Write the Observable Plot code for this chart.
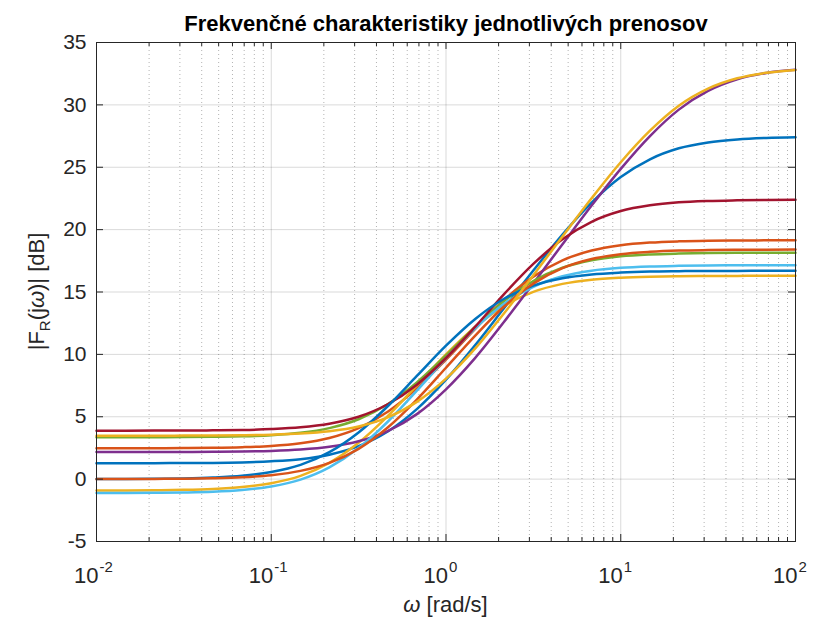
<!DOCTYPE html>
<html><head><meta charset="utf-8">
<script src="https://cdn.jsdelivr.net/npm/d3@7"></script>
<script src="https://cdn.jsdelivr.net/npm/@observablehq/plot@0.6"></script>
<style>body{margin:0;background:#fff}</style>
</head><body><div id="chart"></div>
<script>
// angular frequency samples [rad/s]
const omega = [0.01,0.0147,0.0215,0.0316,0.0464,0.0681,0.1,0.147,0.215,0.316,0.464,0.681,1,1.47,2.15,3.16,4.64,6.81,10,14.7,21.5,31.6,46.4,68.1,100];
// magnitude |F_R(jw)| [dB] of each transfer function
const F1  = [1.27,1.27,1.28,1.29,1.30,1.34,1.43,1.60,1.96,2.64,3.82,5.61,7.97,10.74,13.71,16.72,19.60,22.16,24.21,25.64,26.52,26.99,27.23,27.35,27.40];
const F2  = [2.47,2.47,2.48,2.49,2.51,2.56,2.66,2.88,3.30,4.09,5.40,7.27,9.58,12.05,14.36,16.23,17.54,18.32,18.75,18.96,19.06,19.11,19.13,19.14,19.15];
const F3  = [-0.91,-0.91,-0.89,-0.86,-0.79,-0.64,-0.33,0.26,1.30,2.91,5.05,7.51,10.00,12.20,13.89,15.01,15.65,15.99,16.15,16.23,16.27,16.28,16.29,16.30,16.30];
const F4  = [2.17,2.17,2.17,2.18,2.19,2.21,2.26,2.37,2.59,3.03,3.85,5.21,7.20,9.72,12.61,15.69,18.83,21.93,24.87,27.50,29.62,31.12,32.05,32.56,32.81];
const F5  = [3.35,3.35,3.36,3.37,3.39,3.43,3.52,3.71,4.09,4.80,6.00,7.75,9.91,12.20,14.28,15.88,16.94,17.54,17.86,18.01,18.08,18.12,18.14,18.14,18.15];
const F6  = [-1.12,-1.12,-1.10,-1.07,-1.01,-0.87,-0.59,-0.04,0.94,2.49,4.60,7.09,9.69,12.09,14.05,15.42,16.26,16.71,16.94,17.05,17.10,17.13,17.14,17.15,17.15];
const F7  = [3.88,3.88,3.89,3.89,3.91,3.94,4.01,4.15,4.44,5.00,6.00,7.57,9.71,12.22,14.83,17.25,19.23,20.63,21.49,21.95,22.19,22.30,22.35,22.38,22.39];
const F8  = [0.01,0.01,0.03,0.06,0.13,0.27,0.57,1.14,2.16,3.74,5.84,8.27,10.70,12.84,14.46,15.51,16.10,16.41,16.56,16.64,16.67,16.69,16.69,16.70,16.70];
const F9  = [0.00,0.01,0.02,0.03,0.07,0.15,0.32,0.66,1.30,2.43,4.14,6.38,8.93,11.51,13.84,15.67,16.91,17.64,18.03,18.22,18.32,18.36,18.38,18.39,18.40];
const F10 = [3.48,3.48,3.48,3.49,3.50,3.52,3.56,3.65,3.84,4.22,4.95,6.19,8.05,10.48,13.30,16.34,19.45,22.51,25.40,27.93,29.93,31.30,32.13,32.57,32.80];
const seriesIds = ["F1","F2","F3","F4","F5","F6","F7","F8","F9","F10"];
const seriesValues = [F1, F2, F3, F4, F5, F6, F7, F8, F9, F10];
const seriesColors = ["#0072BD","#D95319","#EDB120","#7E2F8E","#77AC30","#4DBEEE","#A2142F","#0072BD","#D95319","#EDB120"];
// axes
const decades = [0.01, 0.1, 1, 10, 100];
const decadeExp = ["-2", "-1", "0", "1", "2"];
const minorTicks = [0.02,0.03,0.04,0.05,0.06,0.07,0.08,0.09,0.2,0.3,0.4,0.5,0.6,0.7,0.8,0.9,2,3,4,5,6,7,8,9,20,30,40,50,60,70,80,90];
const yTicks = [-5, 0, 5, 10, 15, 20, 25, 30, 35];
const titleText = "Frekvenčné charakteristiky jednotlivých prenosov";

const data = seriesIds.flatMap((id, i) => omega.map((w, j) => ({id, w, v: seriesValues[i][j]})));

const W = 816, H = 625, mL = 96, mR = 21, mT = 42, mB = 84;
const pw = W - mL - mR, ph = H - mT - mB;
const font = "'Liberation Sans', Arial, sans-serif";
const ink = "#262626";

const svg = Plot.plot({
  width: W, height: H,
  marginLeft: mL, marginRight: mR, marginTop: mT, marginBottom: mB,
  style: {fontFamily: font, background: "#fff"},
  x: {type: "log", domain: [0.01, 100], axis: null},
  y: {domain: [-5, 35], axis: null},
  color: {domain: seriesIds, range: seriesColors},
  marks: [
    Plot.ruleX(minorTicks, {x: d => d, stroke: "#000", strokeOpacity: 0.3, strokeDasharray: "1,3"}),
    Plot.ruleX(decades, {x: d => d, stroke: "#000", strokeOpacity: 0.15}),
    Plot.ruleY(yTicks, {y: d => d, stroke: "#000", strokeOpacity: 0.15}),
    Plot.line(data, {x: "w", y: "v", z: "id", stroke: "id", strokeWidth: 2.5, curve: "monotone-x"}),
    Plot.frame({stroke: ink, strokeWidth: 1}),
    Plot.ruleX(decades, {x: d => d, stroke: ink, insetTop: ph - 7}),
    Plot.ruleX(decades, {x: d => d, stroke: ink, insetBottom: ph - 7}),
    Plot.ruleX(minorTicks, {x: d => d, stroke: ink, insetTop: ph - 4}),
    Plot.ruleX(minorTicks, {x: d => d, stroke: ink, insetBottom: ph - 4}),
    Plot.ruleY(yTicks, {y: d => d, stroke: ink, insetRight: pw - 7}),
    Plot.ruleY(yTicks, {y: d => d, stroke: ink, insetLeft: pw - 7}),
    Plot.text(yTicks, {y: d => d, text: d => String(d), frameAnchor: "left", textAnchor: "end", dx: -10, fontSize: 21, fill: ink}),
    Plot.text(decades, {x: d => d, text: () => "10", frameAnchor: "bottom", lineAnchor: "bottom", textAnchor: "end", dx: 2, dy: 41, fontSize: 22, fill: ink}),
    Plot.text(decades, {x: d => d, text: (d, i) => decadeExp[i], frameAnchor: "bottom", lineAnchor: "bottom", textAnchor: "start", dx: 3, dy: 30, fontSize: 15, fill: ink}),
    Plot.text([titleText], {frameAnchor: "top", lineAnchor: "bottom", dy: -12, fontSize: 22, fontWeight: "bold", fill: "#000"})
  ]
});
const s = d3.select(svg);
const xl = s.append("text").attr("x", mL + pw / 2).attr("y", 612).attr("text-anchor", "middle")
  .attr("font-family", font).attr("font-size", 22).attr("fill", ink);
xl.append("tspan").attr("font-style", "italic").text("ω");
xl.append("tspan").text(" [rad/s]");
const yl = s.append("text").attr("transform", `translate(44,${mT + ph / 2}) rotate(-90)`).attr("text-anchor", "middle")
  .attr("font-family", font).attr("font-size", 22).attr("fill", ink);
yl.append("tspan").text("|F");
yl.append("tspan").attr("font-size", 15).attr("dy", 6).text("R");
yl.append("tspan").attr("dy", -6).text("(j");
yl.append("tspan").attr("font-style", "italic").text("ω");
yl.append("tspan").text(")| [dB]");
document.getElementById("chart").appendChild(svg);
</script>
</body></html>
